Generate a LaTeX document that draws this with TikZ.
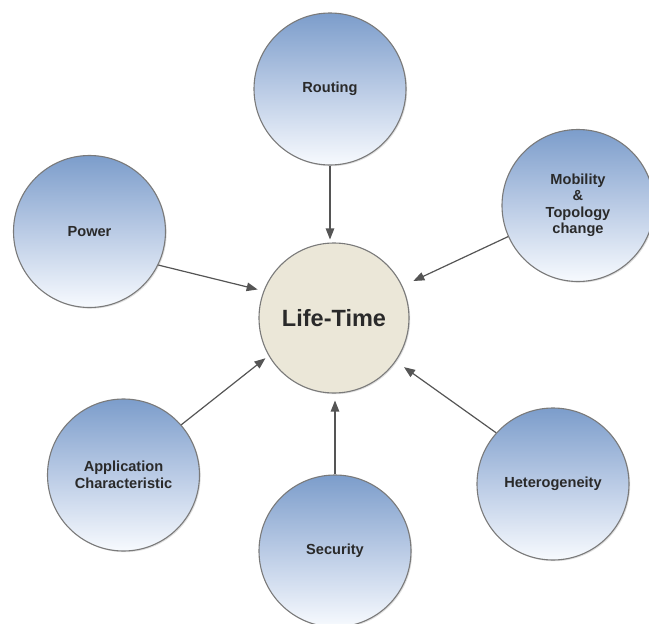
\documentclass[tikz,border=0pt]{standalone}
\usepackage{fontspec}
\setmainfont{Liberation Sans}
\usetikzlibrary{arrows.meta,shadows}
\definecolor{topblue}{HTML}{7C9DCB}
\definecolor{midblue}{HTML}{BACBE5}
\definecolor{botblue}{HTML}{F7FAFE}
\definecolor{beige}{HTML}{EBE7D8}
\definecolor{rim}{HTML}{7A7A7A}
\definecolor{arr}{HTML}{555555}
\definecolor{txt}{HTML}{2A2A2A}
\tikzset{
  factor/.style={circle, draw=rim, line width=1.1pt, minimum size=152pt, inner sep=0pt,
    top color=topblue, bottom color=botblue, middle color=midblue,
    drop shadow={opacity=0.25, shadow xshift=1.2pt, shadow yshift=-1.2pt},
    align=center, text=txt, font=\bfseries\fontsize{14.6}{16.5}\selectfont},
  core/.style={circle, draw=rim, line width=1.1pt, minimum size=150pt, inner sep=0pt,
    fill=beige, drop shadow={opacity=0.25, shadow xshift=1.2pt, shadow yshift=-1.2pt},
    text=txt, font=\bfseries\fontsize{23.5}{27}\selectfont},
  link/.style={draw=arr, line width=1.2pt, -{Triangle[length=11pt,width=8.5pt]}}
}
\begin{document}
\begin{tikzpicture}[x=1pt,y=-1pt]
\useasboundingbox (0,0) rectangle (649,624);
\node[core] (life) at (334,318) {Life-Time};
\node[factor] (routing) at (330,89) {Routing};
\node[factor] (power) at (89.5,231.5) {Power};
\node[factor] (mobility) at (578,205.5) {Mobility\\\&\\Topology\\change};
\node[factor] (app) at (123.5,475) {Application\\Characteristic};
\node[factor] (security) at (335,551) {Security};
\node[factor] (hetero) at (553,484) {Heterogeneity};
\draw[link, shorten >=3pt] (routing.south) -- (routing.south |- life.north);
\draw[link, shorten >=7pt] (security.north) -- (security.north |- life.south);
\draw[link, shorten >=6pt] (power.-26.7) -- (life.159.8);
\draw[link, shorten >=12pt] (mobility.204.2) -- (life.25.7);
\draw[link, shorten >=4pt] (app.41.2) -- (life.210.5);
\draw[link, shorten >=10pt] (hetero.138.7) -- (life.-35.9);
\end{tikzpicture}
\end{document}
